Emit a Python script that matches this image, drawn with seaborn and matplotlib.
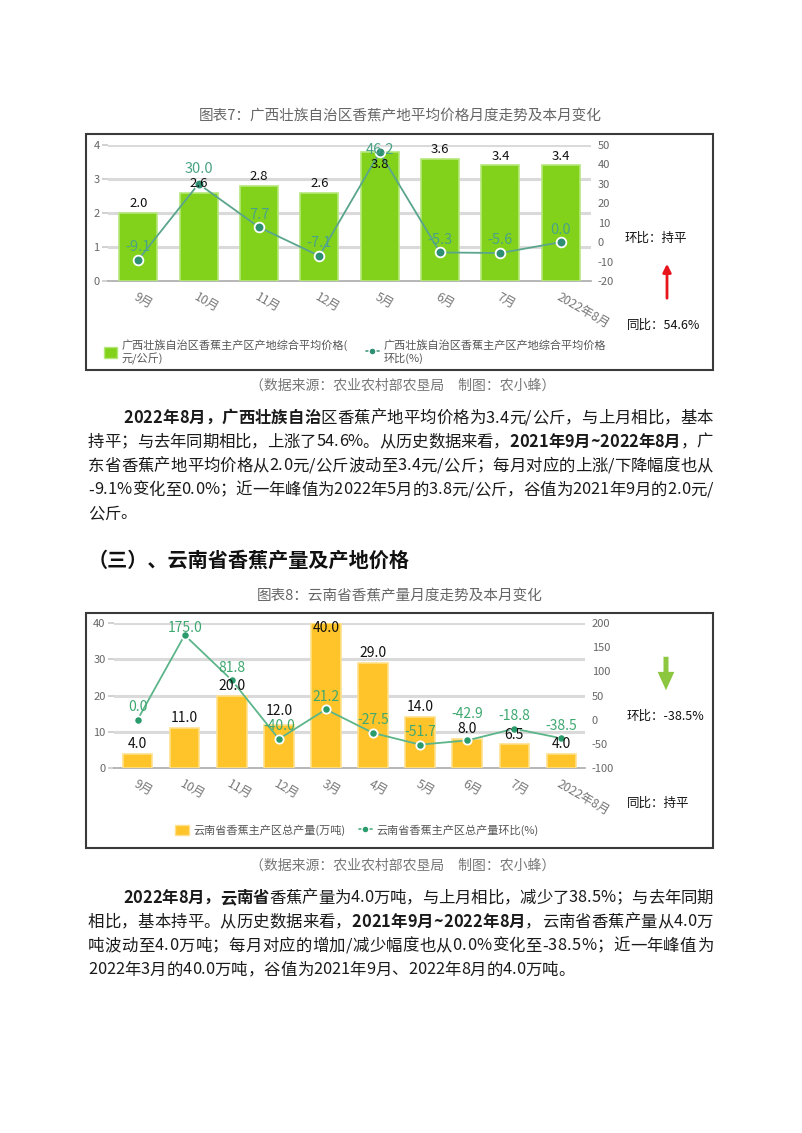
import matplotlib
matplotlib.use('Agg')
import matplotlib.pyplot as plt
import seaborn as sns
import numpy as np
import pandas as pd
from matplotlib.patches import Rectangle, Patch, FancyArrowPatch
from matplotlib.lines import Line2D
from matplotlib.font_manager import FontProperties

sns.set_theme(style='white')
FAM = ['Noto Sans CJK SC', 'DejaVu Sans']
plt.rcParams['font.family'] = FAM
plt.rcParams['axes.unicode_minus'] = False

# ---------------- data ----------------
gx_months = ['9月', '10月', '11月', '12月', '5月', '6月', '7月', '2022年8月']
gx_price = [2.0, 2.6, 2.8, 2.6, 3.8, 3.6, 3.4, 3.4]
gx_mom = [-9.1, 30.0, 7.7, -7.1, 46.2, -5.3, -5.6, 0.0]

yn_months = ['9月', '10月', '11月', '12月', '3月', '4月', '5月', '6月', '7月', '2022年8月']
yn_output = [4.0, 11.0, 20.0, 12.0, 40.0, 29.0, 14.0, 8.0, 6.5, 4.0]
yn_mom = [0.0, 175.0, 81.8, -40.0, 21.2, -27.5, -51.7, -42.9, -18.8, -38.5]

gx_ticks_l = [0, 1, 2, 3, 4]
gx_ticks_r = [-20, -10, 0, 10, 20, 30, 40, 50]
yn_ticks_l = [0, 10, 20, 30, 40]
yn_ticks_r = [-100, -50, 0, 50, 100, 150, 200]

W, H = 802, 1133
DPI = 100
fig = plt.figure(figsize=(W / DPI, H / DPI), dpi=DPI)
fig.patch.set_facecolor('white')
renderer = fig.canvas.get_renderer()


def fx(px):
    return px / W


def fy(py):
    return 1 - py / H


def shift(ann, dy_px):
    ox, oy = ann.xyann
    ann.xyann = (ox, oy + dy_px * 72.0 / DPI)


def overlap(a, b):
    return not (a.x1 <= b.x0 or b.x1 <= a.x0 or a.y1 <= b.y0 or b.y1 <= a.y0)


def draw_chart(rect, cats, bars, line, bar_color, bar_edge, lticks, rticks,
               line_color, marker_color, lbl_color, bar_fs, line_fs, line_off, msize):
    n = len(cats)
    ax = fig.add_axes(rect)
    df = pd.DataFrame({'cat': cats, 'val': bars})
    for y in lticks[1:]:
        ax.axhline(y, color='#dadada', lw=2.2, zorder=0)
    sns.barplot(data=df, x='cat', y='val', ax=ax, color=bar_color, width=0.63,
                saturation=1, edgecolor=bar_edge, linewidth=1.2, zorder=3)
    ax.set_xlim(-0.5, n - 0.5)
    ax.set_ylim(lticks[0], lticks[-1])
    ax.set_yticks(lticks)
    ax.set_yticklabels([str(t) for t in lticks])
    ax.set_xlabel('')
    ax.set_ylabel('')
    for s in ['top', 'right', 'left']:
        ax.spines[s].set_visible(False)
    ax.spines['bottom'].set_color('#aaaaaa')
    ax.spines['bottom'].set_linewidth(1.2)
    ax.tick_params(axis='y', length=4, color='#cccccc', labelsize=8, labelcolor='#666666', pad=2)
    ax.set_xticks(range(n))
    ax.set_xticklabels(cats, rotation=-30, ha='left', rotation_mode='anchor')
    ax.tick_params(axis='x', length=0, labelsize=8.8, labelcolor='#777777', pad=7)
    ax.set_xticks(np.arange(-0.5, n, 1), minor=True)
    ax.tick_params(axis='x', which='minor', length=4, color='#aaaaaa', width=1)

    ax2 = ax.twinx()
    sns.lineplot(x=np.arange(n), y=line, ax=ax2, color=line_color, lw=1.3,
                 marker='o', markersize=msize, markerfacecolor=marker_color,
                 markeredgecolor='white', markeredgewidth=1.3, zorder=5)
    ax2.set_xlim(-0.5, n - 0.5)
    ax2.set_ylim(rticks[0], rticks[-1])
    ax2.set_yticks(rticks)
    ax2.set_yticklabels([str(t) for t in rticks])
    for s in ax2.spines.values():
        s.set_visible(False)
    ax2.tick_params(axis='y', length=0, labelsize=8, labelcolor='#666666', pad=5)
    ax2.grid(False)

    # value labels (all on ax2 so they sit above the line)
    bar_anns, line_anns = [], []
    for i, v in enumerate(bars):
        bar_anns.append(ax2.annotate(f'{v:.1f}', xy=(i, v), xycoords=ax.transData,
                                     xytext=(0, 2), textcoords='offset points',
                                     ha='center', va='bottom', fontsize=bar_fs,
                                     color='#111111', zorder=8))
    for i, v in enumerate(line):
        line_anns.append(ax2.annotate(f'{v:.1f}', xy=(i, v), xytext=(0, line_off),
                                      textcoords='offset points', ha='center', va='bottom',
                                      fontsize=line_fs, color=lbl_color, zorder=7))
    top = ax.get_window_extent(renderer).y1
    # keep labels within the plot top
    for a in bar_anns + line_anns:
        bb = a.get_window_extent(renderer)
        if bb.y1 > top + 2:
            shift(a, top + 2 - bb.y1)
    # resolve overlaps between bar and line labels
    for b in bar_anns:
        for l in line_anns:
            bb = b.get_window_extent(renderer)
            lb = l.get_window_extent(renderer)
            if not overlap(bb, lb):
                continue
            upper, lower = (b, l) if (bb.y0 + bb.y1) > (lb.y0 + lb.y1) else (l, b)
            ub = upper.get_window_extent(renderer)
            lo = lower.get_window_extent(renderer)
            dy = lo.y1 - ub.y0 + 1
            if ub.y1 + dy <= top + 3:
                shift(upper, dy)
            else:
                # move the bar label below the line label
                bb = b.get_window_extent(renderer)
                lb = l.get_window_extent(renderer)
                shift(b, lb.y0 - 1 - bb.y1)
    return ax, ax2


def box(x0, y0, x1, y1):
    fig.add_artist(Rectangle((fx(x0), fy(y1)), fx(x1) - fx(x0), fy(y0) - fy(y1),
                             transform=fig.transFigure, fill=False,
                             edgecolor='#3a3a3a', lw=1.5))


def adv(c, bold, fs):
    prop = FontProperties(family=FAM, size=fs, weight='bold' if bold else 'normal')
    w2, _, _ = renderer.get_text_width_height_descent('中中', prop, ismath=False)
    w3, _, _ = renderer.get_text_width_height_descent('中' + c + '中', prop, ismath=False)
    return w3 - w2


PARA_FS = 11.8


def rich_line(x_px, y_px, runs, right=None, fs=PARA_FS):
    chars = [(c, b) for txt, b in runs for c in txt]
    advs = [adv(c, b, fs) for c, b in chars]
    extra = 0.0
    if right is not None and len(chars) > 1:
        extra = (right - x_px - sum(advs)) / (len(chars) - 1)
    x = x_px
    for (c, b), a in zip(chars, advs):
        fig.text(fx(x), fy(y_px), c, fontsize=fs, fontweight='bold' if b else 'normal',
                 va='center', ha='left', color='#1a1a1a')
        x += a + extra


RIGHT = 713

# ---------------- chart 7 ----------------
fig.text(fx(400), fy(117), '图表7：广西壮族自治区香蕉产地平均价格月度走势及本月变化',
         ha='center', va='center', fontsize=10.5, color='#666666')
box(86, 134, 713, 370)
draw_chart([fx(108), fy(281), fx(591) - fx(108), fy(145) - fy(281)],
           gx_months, gx_price, gx_mom, '#82d21b', '#b5e87a', gx_ticks_l, gx_ticks_r,
           '#5aa58c', '#2f8f72', '#4aa386', 9.5, 10.5, 4, 7)
fig.text(fx(625), fy(238), '环比：持平', ha='left', va='center', fontsize=9, color='#111111')
fig.text(fx(627), fy(325), '同比：54.6%', ha='left', va='center', fontsize=9, color='#111111')
fig.add_artist(FancyArrowPatch((fx(667), fy(301)), (fx(667), fy(261)),
                               transform=fig.transFigure, arrowstyle='-|>',
                               mutation_scale=12, color='#e8141b', lw=2))
fig.legend(handles=[Patch(facecolor='#82d21b', edgecolor='#b5e87a'),
                    Line2D([0], [0], color='#5aa58c', lw=1.3, marker='o', markersize=5,
                           markerfacecolor='#2f8f72', markeredgecolor='white')],
           labels=['广西壮族自治区香蕉主产区产地综合平均价格(\n元/公斤)',
                   '广西壮族自治区香蕉主产区产地综合平均价格\n环比(%)'],
           ncol=2, loc='center', bbox_to_anchor=(fx(355), fy(352)), frameon=False,
           fontsize=8, labelcolor='#555555', handlelength=1.2, handleheight=1.1,
           handletextpad=0.4, columnspacing=1.6)

fig.text(fx(403), fy(386), '（数据来源：农业农村部农垦局　制图：农小蜂）',
         ha='center', va='center', fontsize=10, color='#777777')

rich_line(123, 418, [('2022年8月，广西壮族自治', True),
                     ('区香蕉产地平均价格为3.4元/公斤，与上月相比，基本', False)], RIGHT)
rich_line(88, 442, [('持平；与去年同期相比，上涨了54.6%。从历史数据来看，', False),
                    ('2021年9月~2022年8月', True), ('，广', False)], RIGHT)
rich_line(88, 466, [('东省香蕉产地平均价格从2.0元/公斤波动至3.4元/公斤；每月对应的上涨/下降幅度也从', False)], RIGHT)
rich_line(88, 490, [('-9.1%变化至0.0%；近一年峰值为2022年5月的3.8元/公斤，谷值为2021年9月的2.0元/', False)], RIGHT)
rich_line(88, 514, [('公斤。', False)])

fig.text(fx(88), fy(560), '（三）、云南省香蕉产量及产地价格', ha='left', va='center',
         fontsize=14.5, fontweight='bold', color='#111111')

# ---------------- chart 8 ----------------
fig.text(fx(400), fy(597), '图表8：云南省香蕉产量月度走势及本月变化',
         ha='center', va='center', fontsize=10.5, color='#666666')
box(86, 613, 713, 848)
draw_chart([fx(114), fy(768), fx(585) - fx(114), fy(623) - fy(768)],
           yn_months, yn_output, yn_mom, '#fec42a', '#ffe08a', yn_ticks_l, yn_ticks_r,
           '#5db58a', '#2a9c6c', '#3ea870', 10, 10, 4, 6)
fig.add_artist(FancyArrowPatch((fx(666), fy(654)), (fx(666), fy(693)),
                               transform=fig.transFigure,
                               arrowstyle='simple,head_width=1.0,head_length=1.1,tail_width=0.3',
                               mutation_scale=12, color='#8dc63f', lw=0))
fig.text(fx(627), fy(716), '环比：-38.5%', ha='left', va='center', fontsize=9, color='#111111')
fig.text(fx(627), fy(803), '同比：持平', ha='left', va='center', fontsize=9, color='#111111')
fig.legend(handles=[Patch(facecolor='#fec42a', edgecolor='#ffe08a'),
                    Line2D([0], [0], color='#5db58a', lw=1.3, marker='o', markersize=5,
                           markerfacecolor='#2a9c6c', markeredgecolor='white')],
           labels=['云南省香蕉主产区总产量(万吨)', '云南省香蕉主产区总产量环比(%)'],
           ncol=2, loc='center', bbox_to_anchor=(fx(357), fy(830)), frameon=False,
           fontsize=8, labelcolor='#555555', handlelength=1.2, handleheight=1.1,
           handletextpad=0.4, columnspacing=1.2)

fig.text(fx(403), fy(866), '（数据来源：农业农村部农垦局　制图：农小蜂）',
         ha='center', va='center', fontsize=10, color='#777777')

rich_line(123, 898, [('2022年8月，云南省', True),
                     ('香蕉产量为4.0万吨，与上月相比，减少了38.5%；与去年同期', False)], RIGHT)
rich_line(88, 922, [('相比，基本持平。从历史数据来看，', False),
                    ('2021年9月~2022年8月', True), ('，云南省香蕉产量从4.0万', False)], RIGHT)
rich_line(88, 946, [('吨波动至4.0万吨；每月对应的增加/减少幅度也从0.0%变化至-38.5%；近一年峰值为', False)], RIGHT)
rich_line(88, 970, [('2022年3月的40.0万吨，谷值为2021年9月、2022年8月的4.0万吨。', False)])

fig.savefig('out.png', dpi=DPI, facecolor='white')
